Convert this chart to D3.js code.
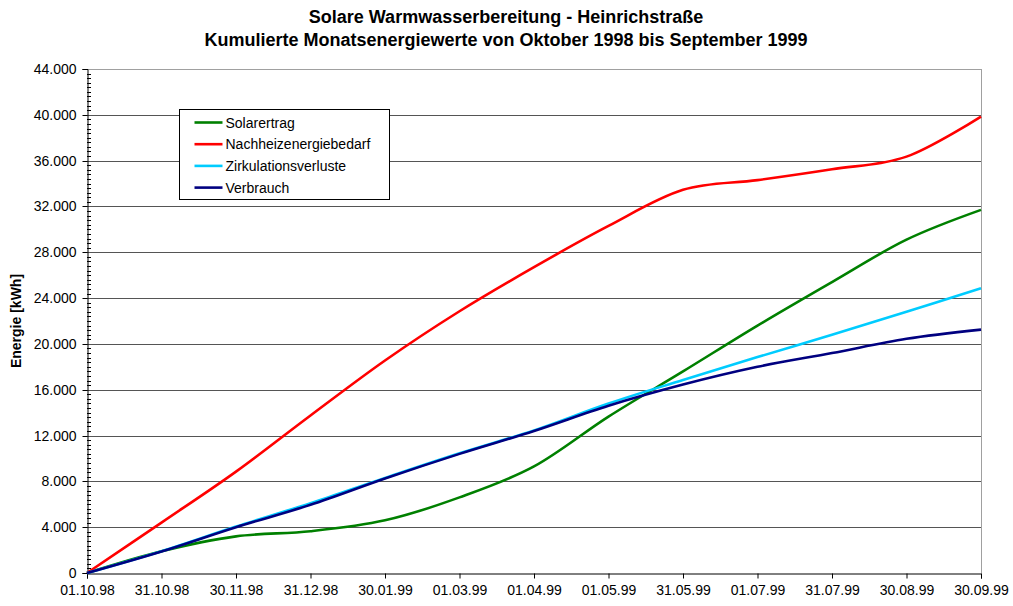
<!DOCTYPE html>
<html>
<head>
<meta charset="utf-8">
<script src="https://cdn.jsdelivr.net/npm/d3@7/dist/d3.min.js"></script>
<style>
  html, body { margin: 0; padding: 0; background: #ffffff; }
  svg { display: block; font-family: "Liberation Sans", Arial, sans-serif; }
</style>
</head>
<body>
<svg id="chart" width="1013" height="606"></svg>
<script>
// Stichtage (kumuliert, monatlich)
const dates = ["01.10.98", "31.10.98", "30.11.98", "31.12.98", "30.01.99", "01.03.99",
               "01.04.99", "01.05.99", "31.05.99", "01.07.99", "31.07.99", "30.08.99", "30.09.99"];

// Kumulierte Energiewerte in kWh
const solarertrag = [0, 1900, 3200, 3650, 4600, 6600, 9300, 13650, 17600, 21600, 25400, 29100, 31700];
const nachheizenergiebedarf = [0, 4400, 8850, 13750, 18550, 22850, 26700, 30300, 33450, 34300, 35250, 36350, 39850];
const zirkulationsverluste = [0, 1900, 4050, 6100, 8300, 10450, 12450, 14800, 16850, 18850, 20800, 22800, 24850];
const verbrauch = [0, 1880, 4000, 5950, 8250, 10400, 12400, 14600, 16450, 18000, 19200, 20450, 21250];

const seriesNames = ["Solarertrag", "Nachheizenergiebedarf", "Zirkulationsverluste", "Verbrauch"];
const seriesValues = [solarertrag, nachheizenergiebedarf, zirkulationsverluste, verbrauch];
const seriesColors = ["#008000", "#ff0000", "#00ccff", "#000080"];

const yTicks = [0, 4000, 8000, 12000, 16000, 20000, 24000, 28000, 32000, 36000, 40000, 44000];
const yMinorTicks = d3.range(0, 44001, 400);

const titleLines = ["Solare Warmwasserbereitung - Heinrichstraße",
                    "Kumulierte Monatsenergiewerte von Oktober 1998 bis September 1999"];

const svg = d3.select("#chart");
const plot = { left: 87, right: 981, top: 69, bottom: 573 };

const x = d3.scalePoint().domain(dates).range([plot.left, plot.right]);
const y = d3.scaleLinear().domain([0, 44000]).range([plot.bottom, plot.top]);

const fmt = v => v === 0 ? "0" : d3.format(",")(v).replace(/,/g, ".");
const labelFont = "'Liberation Sans', Arial, sans-serif";

// Titel
svg.selectAll("text.title").data(titleLines).join("text")
  .attr("class", "title")
  .attr("x", 506)
  .attr("y", (d, i) => 23 + i * 23)
  .attr("text-anchor", "middle")
  .attr("font-size", 18)
  .attr("font-weight", "bold")
  .attr("fill", "#000")
  .text(d => d);

// Gitterlinien
svg.append("g").selectAll("line").data(yTicks.filter(v => v > 0)).join("line")
  .attr("x1", plot.left).attr("x2", plot.right)
  .attr("y1", d => Math.round(y(d)) + 0.5).attr("y2", d => Math.round(y(d)) + 0.5)
  .attr("stroke", d => d === 44000 ? "#a0a0a0" : "#555555")
  .attr("stroke-width", 1);

// rechte Begrenzung
svg.append("line")
  .attr("x1", plot.right + 0.5).attr("x2", plot.right + 0.5)
  .attr("y1", plot.top).attr("y2", plot.bottom)
  .attr("stroke", "#a0a0a0");

// Y-Achse
const yAxis = d3.axisLeft(y).tickValues(yTicks).tickFormat(fmt).tickSize(5).tickPadding(6);
const gy = svg.append("g").attr("transform", `translate(${plot.left + 0.5},0)`).call(yAxis);
gy.select(".domain").attr("stroke", "#000");
gy.selectAll(".tick line").attr("stroke", "#000");
gy.selectAll(".tick text").attr("font-size", 14).attr("fill", "#000")
  .attr("font-family", labelFont);
gy.selectAll(".tick").attr("transform", d => `translate(0,${Math.round(y(d)) + 0.5})`);

// Hilfsstriche der Y-Achse
svg.append("g").selectAll("line").data(yMinorTicks.filter(v => v % 4000 !== 0)).join("line")
  .attr("x1", plot.left).attr("x2", plot.left + 4)
  .attr("y1", d => Math.round(y(d)) + 0.5).attr("y2", d => Math.round(y(d)) + 0.5)
  .attr("stroke", "#000");

// X-Achse
const xAxis = d3.axisBottom(x).tickSize(5).tickPadding(7);
const gx = svg.append("g").attr("transform", `translate(0,${plot.bottom + 0.5})`).call(xAxis);
gx.select(".domain").attr("stroke", "#000");
gx.selectAll(".tick line").attr("stroke", "#000");
gx.selectAll(".tick text").attr("font-size", 14).attr("fill", "#000")
  .attr("font-family", labelFont);

// Achsentitel
svg.append("text")
  .attr("transform", `translate(21,${(plot.top + plot.bottom) / 2}) rotate(-90)`)
  .attr("text-anchor", "middle")
  .attr("font-size", 14)
  .attr("font-weight", "bold")
  .text("Energie [kWh]");

// Kurven
const line = d3.line()
  .x((d, i) => x(dates[i]))
  .y(d => y(d))
  .curve(d3.curveCatmullRom.alpha(0));

svg.append("g").selectAll("path").data(seriesValues).join("path")
  .attr("d", d => line(d))
  .attr("fill", "none")
  .attr("stroke", (d, i) => seriesColors[i])
  .attr("stroke-width", 2.6)
  .attr("stroke-linejoin", "round");

// Legende
const lg = svg.append("g").attr("transform", "translate(179.5,109.5)");
lg.append("rect").attr("width", 210).attr("height", 90)
  .attr("fill", "#fff").attr("stroke", "#000").attr("stroke-width", 1);
const items = lg.selectAll("g.item").data(seriesNames).join("g")
  .attr("class", "item")
  .attr("transform", (d, i) => `translate(0,${13 + i * 21.7})`);
items.append("line").attr("x1", 15).attr("x2", 43).attr("y1", 0).attr("y2", 0)
  .attr("stroke", (d, i) => seriesColors[i]).attr("stroke-width", 2.6);
items.append("text").attr("x", 46).attr("y", 5)
  .attr("font-size", 14).attr("fill", "#000").text(d => d);
</script>
</body>
</html>
